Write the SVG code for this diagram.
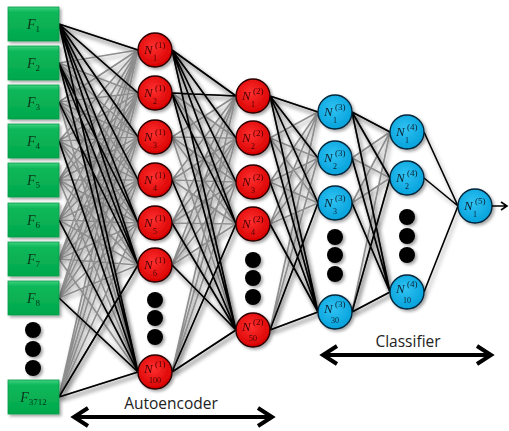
<svg xmlns="http://www.w3.org/2000/svg" width="509" height="431" viewBox="0 0 509 431">
<defs>
<style>
.g{fill:none;stroke:#8e8e8e;stroke-width:1.7}
.k{fill:none;stroke:#000;stroke-width:1.6}
.box{fill:url(#gg);stroke:#0b9a48;stroke-width:0.8}
.rn{fill:url(#rg);stroke:#2a0000;stroke-width:1.4}
.bn{fill:url(#bg);stroke:#06263a;stroke-width:1.4}
.dot{fill:#000}
.N{font-family:"Liberation Serif",serif;font-style:italic;font-size:13px}
.sp{font-family:"Liberation Serif",serif;font-size:9px}
.sb{font-family:"Liberation Serif",serif;font-size:8px}
.rt{fill:#4a0000}
.bt{fill:#0b2233}
.F{font-family:"Liberation Serif",serif;font-style:italic;font-size:14px;fill:#07361b}
.fs{font-style:normal;font-size:9px}
.cap{font-family:"Open Sans","Liberation Sans",sans-serif;font-size:15.5px;fill:#222}
.arr{fill:none;stroke:#000;stroke-width:4}
</style>
<linearGradient id="gg" x1="0" y1="0" x2="0" y2="1"><stop offset="0" stop-color="#3fd27f"/><stop offset="0.15" stop-color="#10b85a"/><stop offset="1" stop-color="#00a84c"/></linearGradient>
<radialGradient id="rg" cx="0.45" cy="0.4" r="0.6"><stop offset="0" stop-color="#ff3030"/><stop offset="1" stop-color="#d80000"/></radialGradient>
<radialGradient id="bg" cx="0.45" cy="0.4" r="0.6"><stop offset="0" stop-color="#30c2f2"/><stop offset="1" stop-color="#05a2dc"/></radialGradient>
<filter id="ls" x="-10%" y="-10%" width="120%" height="120%"><feGaussianBlur in="SourceAlpha" stdDeviation="2" result="b"/><feOffset in="b" dx="2" dy="2.5" result="o"/><feFlood flood-color="#000" flood-opacity="0.4"/><feComposite in2="o" operator="in" result="s"/><feMerge><feMergeNode in="s"/><feMergeNode in="SourceGraphic"/></feMerge></filter>
<filter id="ns" x="-30%" y="-30%" width="160%" height="160%"><feGaussianBlur in="SourceAlpha" stdDeviation="1.5" result="b"/><feOffset in="b" dx="1.5" dy="2" result="o"/><feFlood flood-color="#000" flood-opacity="0.35"/><feComposite in2="o" operator="in" result="s"/><feMerge><feMergeNode in="s"/><feMergeNode in="SourceGraphic"/></feMerge></filter>
<filter id="glow" x="-20%" y="-150%" width="140%" height="400%"><feGaussianBlur stdDeviation="3.5"/></filter>
</defs>
<rect width="509" height="431" fill="#fff"/>

<g id="connectors">
<g filter="url(#ls)">
<path class="g" d="M59 24L138 50M59 24L138 93M59 24L138 137M59 24L138 180M59 24L138 223M59 24L138 265M59 24L138 372M59 63L138 50M59 63L138 93M59 63L138 137M59 63L138 180M59 63L138 223M59 63L138 265M59 63L138 372M59 102L138 50M59 102L138 93M59 102L138 137M59 102L138 180M59 102L138 223M59 102L138 265M59 102L138 372M59 141L138 50M59 141L138 93M59 141L138 137M59 141L138 180M59 141L138 223M59 141L138 265M59 141L138 372M59 180L138 50M59 180L138 93M59 180L138 137M59 180L138 180M59 180L138 223M59 180L138 265M59 180L138 372M59 220L138 50M59 220L138 93M59 220L138 137M59 220L138 180M59 220L138 223M59 220L138 265M59 220L138 372M59 259L138 50M59 259L138 93M59 259L138 137M59 259L138 180M59 259L138 223M59 259L138 265M59 259L138 372M59 298L138 50M59 298L138 93M59 298L138 137M59 298L138 180M59 298L138 223M59 298L138 265M59 298L138 372M59 397L138 50M59 397L138 93M59 397L138 137M59 397L138 180M59 397L138 223M59 397L138 265M59 397L138 372"/>
<path class="g" d="M172 50L236 96M172 50L236 138M172 50L236 182M172 50L236 224M172 50L236 330M172 93L236 96M172 93L236 138M172 93L236 182M172 93L236 224M172 93L236 330M172 137L236 96M172 137L236 138M172 137L236 182M172 137L236 224M172 137L236 330M172 180L236 96M172 180L236 138M172 180L236 182M172 180L236 224M172 180L236 330M172 223L236 96M172 223L236 138M172 223L236 182M172 223L236 224M172 223L236 330M172 265L236 96M172 265L236 138M172 265L236 182M172 265L236 224M172 265L236 330M172 372L236 96M172 372L236 138M172 372L236 182M172 372L236 224M172 372L236 330"/>
<path class="g" d="M270 96L318 112M270 96L318 158M270 96L318 203M270 96L318 312M270 138L318 112M270 138L318 158M270 138L318 203M270 138L318 312M270 182L318 112M270 182L318 158M270 182L318 203M270 182L318 312M270 224L318 112M270 224L318 158M270 224L318 203M270 224L318 312M270 330L318 112M270 330L318 158M270 330L318 203M270 330L318 312"/>
<path class="g" d="M352 112L390 132M352 112L390 178M352 112L390 292M352 158L390 132M352 158L390 178M352 158L390 292M352 203L390 132M352 203L390 178M352 203L390 292M352 312L390 132M352 312L390 178M352 312L390 292"/>
</g>
<g filter="url(#ls)">
<path class="k" d="M59 24L138 50M59 24L138 93M59 24L138 137M59 24L138 180M59 24L138 223M59 24L138 265M59 24L138 372M59 63L138 223M59 63L138 265M59 102L138 265M59 63L138 372M59 141L138 372M59 220L138 372M59 298L138 372M59 397L138 372M59 397L138 265"/>
<path class="k" d="M172 50L236 96M172 50L236 138M172 50L236 182M172 50L236 224M172 50L236 330M172 93L236 96M172 93L236 224M172 93L236 330M172 180L236 330M172 223L236 330M172 265L236 330M172 372L236 330M172 372L236 224"/>
<path class="k" d="M270 96L318 112M270 96L318 158M270 96L318 203M270 96L318 312M270 138L318 312M270 182L318 312M270 224L318 312M270 330L318 312M270 330L318 203"/>
<path class="k" d="M352 112L390 132M352 112L390 178M352 112L390 292M352 158L390 292M352 203L390 292M352 312L390 292M352 312L390 178"/>
<path class="k" d="M424 132L458 206M424 178L458 206M424 292L458 206"/>
</g>
</g>

<g id="inputs" filter="url(#ns)">
<g id="F1"><rect class="box" x="8" y="7" width="51" height="34"/><text class="F" x="33.5" y="29" text-anchor="middle">F<tspan class="fs" dy="3">1</tspan></text></g>
<g id="F2"><rect class="box" x="8" y="46" width="51" height="34"/><text class="F" x="33.5" y="68" text-anchor="middle">F<tspan class="fs" dy="3">2</tspan></text></g>
<g id="F3"><rect class="box" x="8" y="85" width="51" height="34"/><text class="F" x="33.5" y="107" text-anchor="middle">F<tspan class="fs" dy="3">3</tspan></text></g>
<g id="F4"><rect class="box" x="8" y="124" width="51" height="34"/><text class="F" x="33.5" y="146" text-anchor="middle">F<tspan class="fs" dy="3">4</tspan></text></g>
<g id="F5"><rect class="box" x="8" y="163" width="51" height="34"/><text class="F" x="33.5" y="185" text-anchor="middle">F<tspan class="fs" dy="3">5</tspan></text></g>
<g id="F6"><rect class="box" x="8" y="203" width="51" height="34"/><text class="F" x="33.5" y="225" text-anchor="middle">F<tspan class="fs" dy="3">6</tspan></text></g>
<g id="F7"><rect class="box" x="8" y="242" width="51" height="34"/><text class="F" x="33.5" y="264" text-anchor="middle">F<tspan class="fs" dy="3">7</tspan></text></g>
<g id="F8"><rect class="box" x="8" y="281" width="51" height="34"/><text class="F" x="33.5" y="303" text-anchor="middle">F<tspan class="fs" dy="3">8</tspan></text></g>
<g id="Fdots"><circle class="dot" cx="33" cy="330" r="8"/><circle class="dot" cx="33" cy="349" r="8"/><circle class="dot" cx="33" cy="368" r="8"/></g>
<g id="F3712"><rect class="box" x="8" y="380" width="51" height="34"/><text class="F" x="33.5" y="402" text-anchor="middle">F<tspan class="fs" dy="3">3712</tspan></text></g>
</g>

<g id="layer1" filter="url(#ns)">
<g id="N1_1"><circle class="rn" cx="155" cy="50" r="17"/><text class="N rt" x="144" y="54">N</text><text class="sp rt" x="155" y="48">(1)</text><text class="sb rt" x="153" y="61">1</text></g>
<g id="N2_1"><circle class="rn" cx="155" cy="93" r="17"/><text class="N rt" x="144" y="97">N</text><text class="sp rt" x="155" y="91">(1)</text><text class="sb rt" x="153" y="104">2</text></g>
<g id="N3_1"><circle class="rn" cx="155" cy="137" r="17"/><text class="N rt" x="144" y="141">N</text><text class="sp rt" x="155" y="135">(1)</text><text class="sb rt" x="153" y="148">3</text></g>
<g id="N4_1"><circle class="rn" cx="155" cy="180" r="17"/><text class="N rt" x="144" y="184">N</text><text class="sp rt" x="155" y="178">(1)</text><text class="sb rt" x="153" y="191">4</text></g>
<g id="N5_1"><circle class="rn" cx="155" cy="223" r="17"/><text class="N rt" x="144" y="227">N</text><text class="sp rt" x="155" y="221">(1)</text><text class="sb rt" x="153" y="234">5</text></g>
<g id="N6_1"><circle class="rn" cx="155" cy="265" r="17"/><text class="N rt" x="144" y="269">N</text><text class="sp rt" x="155" y="263">(1)</text><text class="sb rt" x="153" y="276">6</text></g>
<g id="dots1"><circle class="dot" cx="155" cy="300" r="8"/><circle class="dot" cx="155" cy="318" r="8"/><circle class="dot" cx="155" cy="337" r="8"/></g>
<g id="N100_1"><circle class="rn" cx="155" cy="372" r="17"/><text class="N rt" x="144" y="373">N</text><text class="sp rt" x="155" y="367">(1)</text><text class="sb rt" x="149" y="383">100</text></g>
</g>

<g id="layer2" filter="url(#ns)">
<g id="N1_2"><circle class="rn" cx="253" cy="96" r="17"/><text class="N rt" x="242" y="100">N</text><text class="sp rt" x="253" y="94">(2)</text><text class="sb rt" x="251" y="107">1</text></g>
<g id="N2_2"><circle class="rn" cx="253" cy="138" r="17"/><text class="N rt" x="242" y="142">N</text><text class="sp rt" x="253" y="136">(2)</text><text class="sb rt" x="251" y="149">2</text></g>
<g id="N3_2"><circle class="rn" cx="253" cy="182" r="17"/><text class="N rt" x="242" y="186">N</text><text class="sp rt" x="253" y="180">(2)</text><text class="sb rt" x="251" y="193">3</text></g>
<g id="N4_2"><circle class="rn" cx="253" cy="224" r="17"/><text class="N rt" x="242" y="228">N</text><text class="sp rt" x="253" y="222">(2)</text><text class="sb rt" x="251" y="235">4</text></g>
<g id="dots2"><circle class="dot" cx="253" cy="260" r="8"/><circle class="dot" cx="253" cy="278" r="8"/><circle class="dot" cx="253" cy="297" r="8"/></g>
<g id="N50_2"><circle class="rn" cx="253" cy="330" r="17"/><text class="N rt" x="242" y="331">N</text><text class="sp rt" x="253" y="325">(2)</text><text class="sb rt" x="249" y="341">50</text></g>
</g>

<g id="layer3" filter="url(#ns)">
<g id="N1_3"><circle class="bn" cx="335" cy="112" r="17"/><text class="N bt" x="324" y="116">N</text><text class="sp bt" x="335" y="110">(3)</text><text class="sb bt" x="333" y="123">1</text></g>
<g id="N2_3"><circle class="bn" cx="335" cy="158" r="17"/><text class="N bt" x="324" y="162">N</text><text class="sp bt" x="335" y="156">(3)</text><text class="sb bt" x="333" y="169">2</text></g>
<g id="N3_3"><circle class="bn" cx="335" cy="203" r="17"/><text class="N bt" x="324" y="207">N</text><text class="sp bt" x="335" y="201">(3)</text><text class="sb bt" x="333" y="214">3</text></g>
<g id="dots3"><circle class="dot" cx="335" cy="237" r="8"/><circle class="dot" cx="335" cy="255" r="8"/><circle class="dot" cx="335" cy="274" r="8"/></g>
<g id="N30_3"><circle class="bn" cx="335" cy="312" r="17"/><text class="N bt" x="324" y="313">N</text><text class="sp bt" x="335" y="307">(3)</text><text class="sb bt" x="331" y="323">30</text></g>
</g>

<g id="layer4" filter="url(#ns)">
<g id="N1_4"><circle class="bn" cx="407" cy="132" r="17"/><text class="N bt" x="396" y="136">N</text><text class="sp bt" x="407" y="130">(4)</text><text class="sb bt" x="405" y="143">1</text></g>
<g id="N2_4"><circle class="bn" cx="407" cy="178" r="17"/><text class="N bt" x="396" y="182">N</text><text class="sp bt" x="407" y="176">(4)</text><text class="sb bt" x="405" y="189">2</text></g>
<g id="dots4"><circle class="dot" cx="407" cy="217" r="8"/><circle class="dot" cx="407" cy="236" r="8"/><circle class="dot" cx="407" cy="255" r="8"/></g>
<g id="N10_4"><circle class="bn" cx="407" cy="292" r="17"/><text class="N bt" x="396" y="293">N</text><text class="sp bt" x="407" y="287">(4)</text><text class="sb bt" x="403" y="303">10</text></g>
</g>

<g id="layer5" filter="url(#ns)">
<g id="N1_5"><circle class="bn" cx="475" cy="206" r="17"/><text class="N bt" x="464" y="210">N</text><text class="sp bt" x="475" y="204">(5)</text><text class="sb bt" x="473" y="217">1</text></g>
</g>
<g id="output"><path d="M492 206H506M501 202L507 206L501 210" fill="none" stroke="#000" stroke-width="1.6"/></g>

<g id="autoencoder">
<line x1="78" y1="417" x2="270" y2="417" stroke="#f28c8c" stroke-width="18" stroke-linecap="round" filter="url(#glow)" opacity="0.85"/>
<line class="arr" x1="76" y1="417" x2="270" y2="417"/>
<path class="arr" d="M88 408L74 417L88 426M258 408L272 417L258 426"/>
<text class="cap" x="171" y="409" text-anchor="middle">Autoencoder</text>
</g>
<g id="classifier">
<line x1="325" y1="355" x2="489" y2="355" stroke="#5ccdf5" stroke-width="18" stroke-linecap="round" filter="url(#glow)" opacity="0.85"/>
<line class="arr" x1="325" y1="355" x2="489" y2="355"/>
<path class="arr" d="M337 346L323 355L337 364M477 346L491 355L477 364"/>
<text class="cap" x="408" y="347" text-anchor="middle">Classifier</text>
</g>
</svg>
